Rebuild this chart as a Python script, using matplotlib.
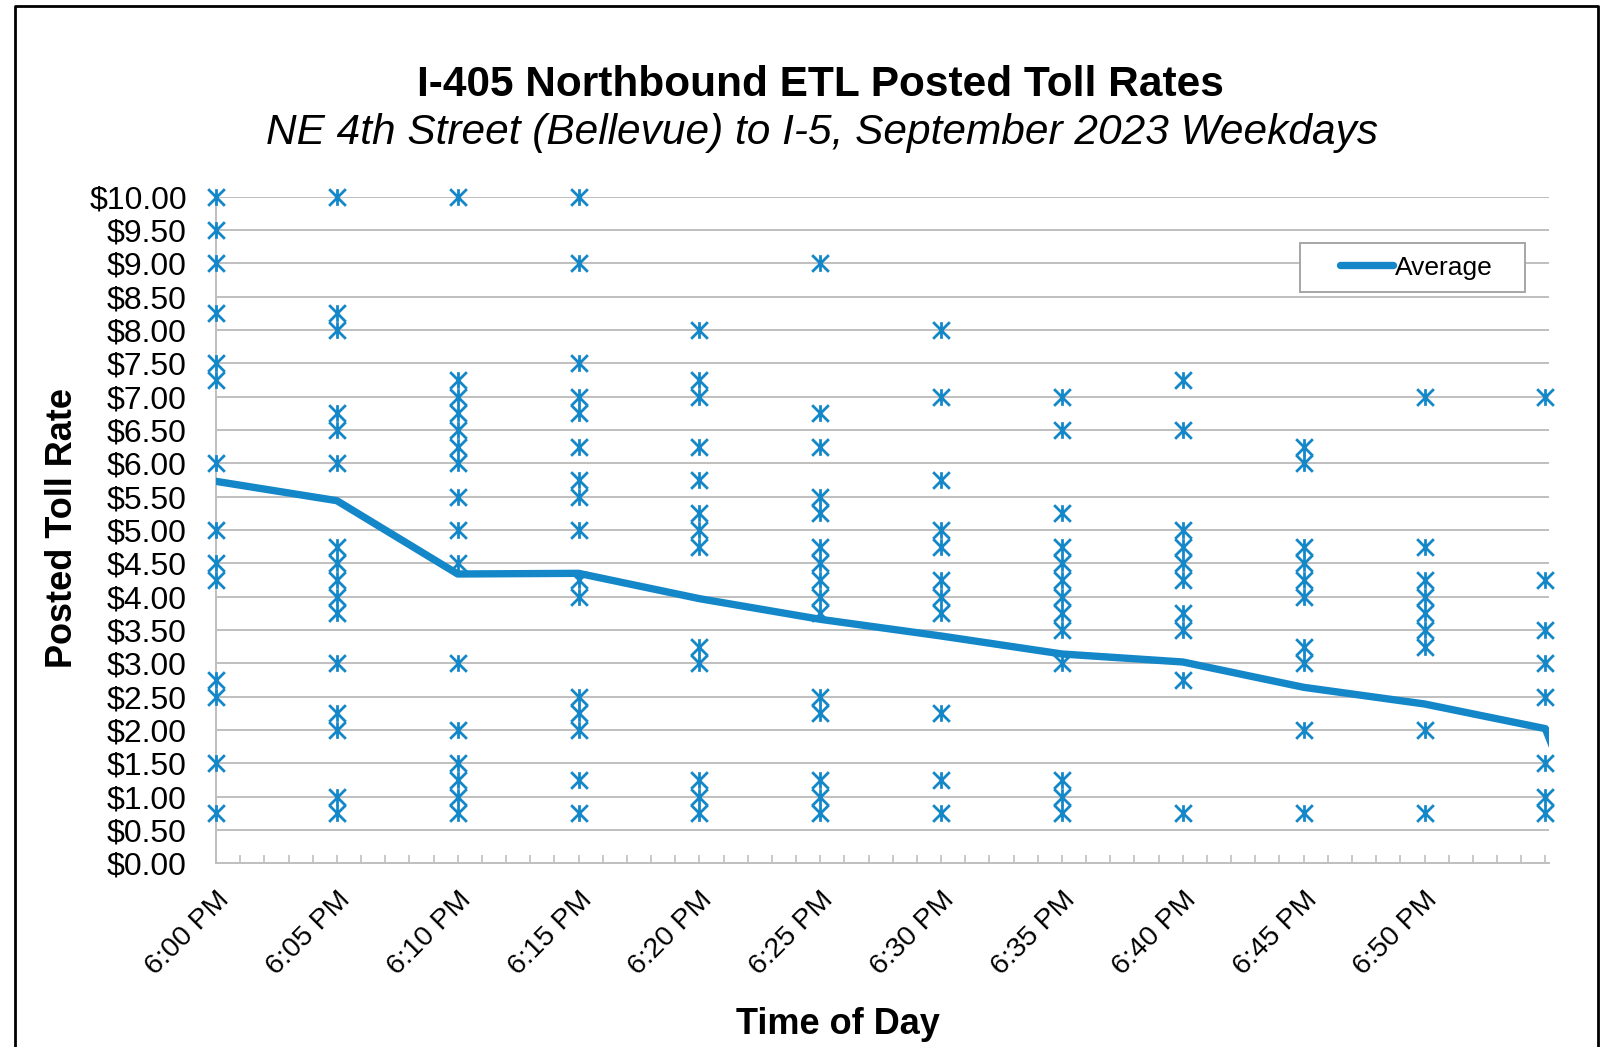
import numpy as np
import matplotlib.pyplot as plt
from matplotlib.path import Path
from matplotlib.lines import Line2D
from matplotlib.patches import Rectangle

plt.rcParams['font.family'] = ['Liberation Sans', 'DejaVu Sans']

# minutes after 6:00 PM
times = [0, 5, 10, 15, 20, 25, 30, 35, 40, 45, 50, 55]
tick_labels = ["6:00 PM", "6:05 PM", "6:10 PM", "6:15 PM", "6:20 PM", "6:25 PM",
               "6:30 PM", "6:35 PM", "6:40 PM", "6:45 PM", "6:50 PM"]

# posted toll rates seen at each time on September 2023 weekdays
rates_600 = [10, 9.5, 9, 8.25, 7.5, 7.25, 6, 5, 4.5, 4.25, 2.75, 2.5, 1.5, 0.75]
rates_605 = [10, 8.25, 8, 6.75, 6.5, 6, 4.75, 4.5, 4.25, 4, 3.75, 3, 2.25, 2, 1, 0.75]
rates_610 = [10, 7.25, 7, 6.75, 6.5, 6.25, 6, 5.5, 5, 4.5, 3, 2, 1.5, 1.25, 1, 0.75]
rates_615 = [10, 9, 7.5, 7, 6.75, 6.25, 5.75, 5.5, 5, 4.25, 4, 2.5, 2.25, 2, 1.25, 0.75]
rates_620 = [8, 7.25, 7, 6.25, 5.75, 5.25, 5, 4.75, 3.25, 3, 1.25, 1, 0.75]
rates_625 = [9, 6.75, 6.25, 5.5, 5.25, 4.75, 4.5, 4.25, 4, 3.75, 2.5, 2.25, 1.25, 1, 0.75]
rates_630 = [8, 7, 5.75, 5, 4.75, 4.25, 4, 3.75, 2.25, 1.25, 0.75]
rates_635 = [7, 6.5, 5.25, 4.75, 4.5, 4.25, 4, 3.75, 3.5, 3, 1.25, 1, 0.75]
rates_640 = [7.25, 6.5, 5, 4.75, 4.5, 4.25, 3.75, 3.5, 2.75, 0.75]
rates_645 = [6.25, 6, 4.75, 4.5, 4.25, 4, 3.25, 3, 2, 0.75]
rates_650 = [7, 4.75, 4.25, 4, 3.75, 3.5, 3.25, 2, 0.75]
rates_655 = [7, 4.25, 3.5, 3, 2.5, 1.5, 1, 0.75]
rates = [rates_600, rates_605, rates_610, rates_615, rates_620, rates_625,
         rates_630, rates_635, rates_640, rates_645, rates_650, rates_655]

avg_minutes = [0, 5, 10, 15, 20, 25, 30, 35, 40, 45, 50, 55, 56]
avg_rate = [5.73, 5.44, 4.34, 4.35, 3.97, 3.66, 3.41, 3.14, 3.02, 2.64, 2.39, 2.02, 1.1]

blue = '#1487c9'
grey = '#bfbfbf'

# excel style star marker: an x with a vertical bar
star = Path([(-1, -1), (1, 1), (-1, 1), (1, -1), (0, -1), (0, 1)],
            [Path.MOVETO, Path.LINETO] * 3)

fig = plt.figure(figsize=(16.09, 10.47), dpi=100)
ax = fig.add_axes([216 / 1609, 1 - 863.3 / 1047, (1549 - 216) / 1609, (863.3 - 196.7) / 1047])

for m, vals in zip(times, rates):
    ax.plot([m] * len(vals), vals, ls='none', marker=star, ms=12, mew=2,
            mec=blue, mfc='none', clip_on=False, zorder=3)

ax.plot(avg_minutes, avg_rate, color=blue, lw=5.3, zorder=4)

ax.set_xlim(0, 55.15)
ax.set_ylim(0, 10)
yt = np.arange(0, 10.01, 0.5)
ax.set_yticks(yt)
ax.set_yticklabels([f"${v:.2f}" for v in yt])
ax.yaxis.grid(True, color=grey, lw=1.4)
ax.set_axisbelow(True)
for s in ['top', 'right']:
    ax.spines[s].set_visible(False)
for s in ['left', 'bottom']:
    ax.spines[s].set_color(grey)
    ax.spines[s].set_linewidth(1.4)
ax.tick_params(axis='y', length=0, pad=21, labelsize=23)

ax.set_xticks(times[:-1])
ax.set_xticklabels(tick_labels)
ax.set_xticks(range(0, 56), minor=True)
ax.tick_params(axis='x', which='both', direction='in', length=5.5, color=grey, width=1.2)
ax.tick_params(axis='x', which='major', pad=17, labelsize=20.5)
for lbl in ax.get_xticklabels():
    lbl.set_rotation(45)
    lbl.set_ha('right')
    lbl.set_va('top')
    lbl.set_rotation_mode('anchor')

# legend with a wide box like the original
box = Rectangle(((1300 - 216) / 1333, (863.3 - 292) / 666.7), 225 / 1333, 49 / 666.7,
                transform=ax.transAxes, facecolor='white', edgecolor='#a6a6a6', lw=1.4, zorder=5)
ax.add_patch(box)
handle = Line2D([], [], color=blue, lw=5.3, solid_capstyle='round')
leg = ax.legend([handle], ['Average'], loc='center', bbox_to_anchor=(0.9006, 0.8937),
                frameon=False, fontsize=19, handlelength=2.0, handletextpad=0.1)
leg.set_zorder(6)

fig.text(820 / 1609, 1 - 85 / 1047, "I-405 Northbound ETL Posted Toll Rates",
         ha='center', va='center', fontsize=30.5, fontweight='bold')
fig.text(822 / 1609, 1 - 133 / 1047, "NE 4th Street (Bellevue) to I-5, September 2023 Weekdays",
         ha='center', va='center', fontsize=30.5, style='italic')
fig.text(62 / 1609, 1 - 528 / 1047, "Posted Toll Rate", rotation=90,
         ha='center', va='center', fontsize=26, fontweight='bold')
fig.text(838 / 1609, 1 - 1025 / 1047, "Time of Day",
         ha='center', va='center', fontsize=26, fontweight='bold')

# outer frame
fig.add_artist(Line2D([15 / 1609, 15 / 1609, 1598 / 1609, 1598 / 1609],
                      [0, 1 - 6 / 1047, 1 - 6 / 1047, 0],
                      color='black', lw=2, transform=fig.transFigure))

fig.savefig('out.png', dpi=100)
